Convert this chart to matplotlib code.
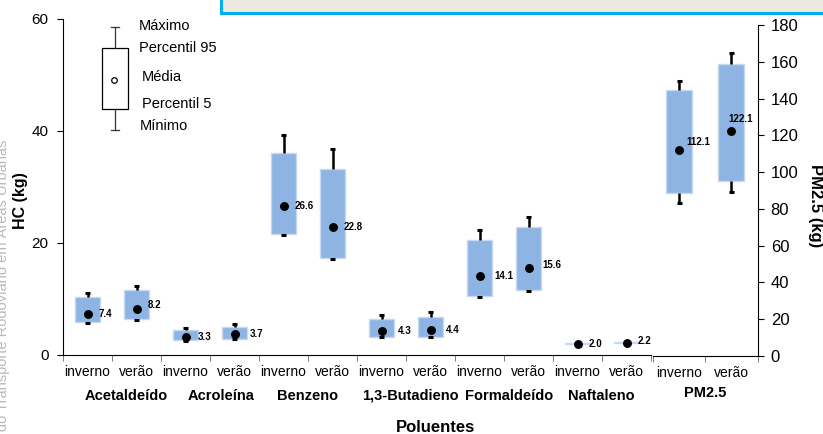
import matplotlib
matplotlib.use("Agg")
import matplotlib.pyplot as plt
from matplotlib.patches import Rectangle
from matplotlib.transforms import blended_transform_factory

plt.rcParams['font.family'] = ['Liberation Sans', 'DejaVu Sans']

# ---------------- data ----------------
groups_hc = ["Acetaldeído", "Acroleína", "Benzeno", "1,3-Butadieno", "Formaldeído", "Naftaleno"]
seasons = ["inverno", "verão"]

# per box (inverno, verão for each pollutant), HC in kg
hc_max  = [11.1, 12.4, 4.8, 5.5, 39.3, 36.7, 7.1, 7.6, 22.3, 24.7, 2.1, 2.3]
hc_p95  = [10.4, 11.6, 4.5, 4.95, 36.1, 33.3, 6.4, 6.7, 20.5, 22.9, 2.1, 2.3]
hc_mean = [7.4, 8.2, 3.3, 3.7, 26.6, 22.8, 4.3, 4.4, 14.1, 15.6, 2.0, 2.2]
hc_p5   = [5.9, 6.4, 2.7, 2.9, 21.55, 17.3, 3.3, 3.3, 10.5, 11.55, 2.0, 2.2]
hc_min  = [5.7, 6.2, 2.55, 2.85, 21.4, 17.1, 3.2, 3.15, 10.4, 11.4, 2.0, 2.2]

group_pm = "PM2.5"
pm_max  = [149.4, 164.6]
pm_p95  = [144.5, 158.6]
pm_mean = [112.1, 122.1]
pm_p5   = [88.5, 95.3]
pm_min  = [83.2, 89.3]

hc_yticks = [0, 20, 40, 60]
pm_yticks = [0, 20, 40, 60, 80, 100, 120, 140, 160, 180]

# ---------------- style ----------------
# label offsets (points) for the mean value labels
hc_label_off = [(8, 0), (8, 3), (9, 0), (11, 0), (8, 0), (8, 0), (12, 0), (11, 0), (11, 0), (10, 2), (8, 0), (8, 1)]
pm_label_off = [(5, 6), (-2, 9)]
# horizontal shift (in category units) of each group name from its pair centre
group_label_shift = [0.29, 0.22, 0.0, 0.1, 0.1, -0.02]

BOX_COLOR = "#8DB4E2"
BOX_EDGE = "#C6D9F1"
W = 823 / 100
H = 434 / 100

fig = plt.figure(figsize=(W, H), dpi=100)

def fx(px):
    return px / 823.0

def fy(py):
    return 1 - py / 434.0

# decorative top panel and watermark from screenshot
fig.patches.append(Rectangle((fx(221), fy(13)), 1.0, 0.2, transform=fig.transFigure,
                             facecolor="#ECE9E0", edgecolor="#00AEEF", linewidth=2.2, zorder=0))
fig.text(fx(2), fy(140), "Emissões do Transporte Rodoviário em Áreas Urbanas", rotation=90,
         ha="center", va="top", color="#B8B8B8", fontsize=10.5)

ax1 = fig.add_axes([fx(63), fy(355), fx(651) - fx(63), fy(19) - fy(355)])
ax2 = fig.add_axes([fx(653), fy(356), fx(757.5) - fx(653), fy(25) - fy(356)])
for ax in (ax1, ax2):
    ax.patch.set_alpha(0)


def draw_boxes(ax, mx, p95, mean, p5, mn, offs, width=0.5, capw=0.1):
    n = len(mean)
    for i in range(n):
        ax.add_patch(Rectangle((i - width / 2, p5[i]), width, p95[i] - p5[i],
                               facecolor=BOX_COLOR, edgecolor=BOX_EDGE, linewidth=1, zorder=2))
        if mx[i] > p95[i]:
            ax.plot([i, i], [p95[i], mx[i]], color="black", lw=1.8, zorder=3, solid_capstyle="butt")
            ax.plot([i - capw / 2, i + capw / 2], [mx[i], mx[i]], color="black", lw=2.2, zorder=3,
                    solid_capstyle="butt")
        if mn[i] < p5[i]:
            ax.plot([i, i], [mn[i], p5[i]], color="black", lw=1.8, zorder=3, solid_capstyle="butt")
            ax.plot([i - capw / 2, i + capw / 2], [mn[i], mn[i]], color="black", lw=2.2, zorder=3,
                    solid_capstyle="butt")
        ax.plot([i], [mean[i]], marker="o", color="black", markersize=5.4, zorder=4)
        ax.annotate(f"{mean[i]:.1f}", (i, mean[i]), xytext=offs[i], textcoords="offset points",
                    ha="left", va="center", fontsize=7, fontweight="bold", zorder=5)


draw_boxes(ax1, hc_max, hc_p95, hc_mean, hc_p5, hc_min, hc_label_off)
draw_boxes(ax2, pm_max, pm_p95, pm_mean, pm_p5, pm_min, pm_label_off, width=0.5, capw=0.1)

# ---- ax1 (HC) ----
n1 = len(hc_mean)
ax1.set_xlim(-0.5, n1 - 0.5)
ax1.set_ylim(0, 60)
ax1.spines["top"].set_visible(False)
ax1.spines["right"].set_visible(False)
ax1.set_yticks(hc_yticks)
ax1.tick_params(axis="y", labelsize=11, length=4, pad=6.5, width=0.8)
ax1.set_xticks(range(n1))
ax1.set_xticklabels([seasons[i % 2] for i in range(n1)], fontsize=10)
ax1.set_xticks([i - 0.5 for i in range(n1 + 1)], minor=True)
ax1.tick_params(axis="x", which="major", length=0, pad=7)
ax1.tick_params(axis="x", which="minor", length=4, width=0.6, color="#666666")

tr1 = blended_transform_factory(ax1.transData, ax1.transAxes)
for g, name in enumerate(groups_hc):
    ax1.text(2 * g + 0.5 + group_label_shift[g], -0.122, name, transform=tr1, ha="center",
             va="center", fontsize=10.5, fontweight="bold")

# ---- ax2 (PM2.5) ----
ax2.set_xlim(-0.5, 1.5)
ax2.set_ylim(0, 180)
ax2.spines["top"].set_visible(False)
ax2.spines["left"].set_visible(False)
ax2.yaxis.tick_right()
ax2.set_yticks(pm_yticks)
ax2.tick_params(axis="y", labelsize=12, length=4, pad=5.5, width=0.8)
ax2.set_xticks([0, 1])
ax2.set_xticklabels(seasons, fontsize=10)
ax2.set_xticks([-0.5, 0.5, 1.5], minor=True)
ax2.tick_params(axis="x", which="major", length=0, pad=7)
ax2.tick_params(axis="x", which="minor", length=4, width=0.6, color="#666666")
tr2 = blended_transform_factory(ax2.transData, ax2.transAxes)
ax2.text(0.5, -0.112, group_pm, transform=tr2, ha="center", va="center",
         fontsize=10.5, fontweight="bold")

# ---- legend key sketch (upper left) ----
kx = 0.56
ax1.add_patch(Rectangle((0.296, 43.9), 0.53, 54.9 - 43.9, facecolor="white", edgecolor="black",
                        linewidth=0.9, zorder=2))
ax1.plot([kx, kx], [54.9, 58.6], color="#333333", lw=0.9)
ax1.plot([kx - 0.085, kx + 0.085], [58.6, 58.6], color="#333333", lw=0.9)
ax1.plot([kx, kx], [40.2, 43.9], color="#333333", lw=0.9)
ax1.plot([kx - 0.085, kx + 0.085], [40.2, 40.2], color="#333333", lw=0.9)
ax1.plot([0.547], [49.1], marker="o", markersize=4, markerfacecolor="white",
         markeredgecolor="black", markeredgewidth=0.9, zorder=3)
for txt, lx, ly in [("Máximo", 1.051, 58.75), ("Percentil 95", 1.051, 54.8), ("Média", 1.11, 49.6),
                    ("Percentil 5", 1.115, 44.8), ("Mínimo", 1.07, 40.9)]:
    ax1.text(lx, ly, txt, ha="left", va="center", fontsize=10.5)

# ---- axis titles ----
fig.text(fx(20), fy(201), "HC (kg)", rotation=90, ha="center", va="center",
         fontsize=11.5, fontweight="bold")
fig.text(fx(815), fy(206), "PM2.5 (kg)", rotation=270, ha="center", va="center",
         fontsize=12, fontweight="bold")
fig.text(fx(435.5), fy(427), "Poluentes", ha="center", va="center",
         fontsize=12, fontweight="bold")

fig.savefig("out.png", dpi=100)
